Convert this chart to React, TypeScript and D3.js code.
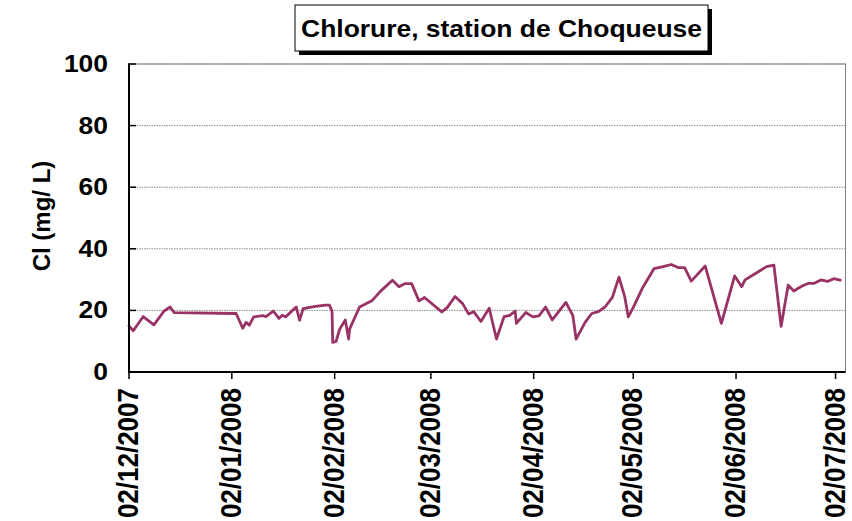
import React, { useRef, useEffect } from 'react';
import * as d3 from 'd3';

// sample time (dd/mm/yyyy HH) and chloride concentration in mg/L
const sampleTimes = [
  '02/12/2007 00', '03/12/2007 07', '06/12/2007 07', '09/12/2007 12', '12/12/2007 14',
  '14/12/2007 10', '15/12/2007 14', '03/01/2008 07', '05/01/2008 07', '06/01/2008 07',
  '07/01/2008 07', '08/01/2008 14', '11/01/2008 07', '12/01/2008 07', '14/01/2008 12',
  '16/01/2008 05', '17/01/2008 05', '18/01/2008 05', '21/01/2008 10', '22/01/2008 10',
  '23/01/2008 12', '27/01/2008 05', '30/01/2008 05', '31/01/2008 10', '01/02/2008 05',
  '01/02/2008 10', '02/02/2008 10', '03/02/2008 12', '05/02/2008 05', '06/02/2008 05',
  '06/02/2008 12', '09/02/2008 12', '13/02/2008 05', '15/02/2008 17', '19/02/2008 10',
  '21/02/2008 10', '23/02/2008 05', '25/02/2008 05', '27/02/2008 10', '29/02/2008 02',
  '05/03/2008 07', '06/03/2008 22', '09/03/2008 07', '11/03/2008 14', '13/03/2008 10',
  '14/03/2008 22', '17/03/2008 02', '19/03/2008 14', '21/03/2008 19', '24/03/2008 02',
  '25/03/2008 19', '27/03/2008 10', '27/03/2008 19', '30/03/2008 14', '01/04/2008 19',
  '03/04/2008 14', '05/04/2008 14', '07/04/2008 14', '11/04/2008 17', '13/04/2008 19',
  '14/04/2008 19', '17/04/2008 12', '19/04/2008 12', '21/04/2008 12', '23/04/2008 12',
  '25/04/2008 17', '27/04/2008 17', '29/04/2008 12', '30/04/2008 12', '02/05/2008 00',
  '04/05/2008 17', '08/05/2008 07', '11/05/2008 00', '13/05/2008 12', '15/05/2008 12',
  '17/05/2008 12', '19/05/2008 12', '23/05/2008 17', '28/05/2008 14', '01/06/2008 14',
  '03/06/2008 17', '04/06/2008 17', '11/06/2008 05', '13/06/2008 10', '15/06/2008 14',
  '17/06/2008 17', '19/06/2008 10', '21/06/2008 22', '23/06/2008 22', '25/06/2008 14',
  '27/06/2008 14', '29/06/2008 14', '01/07/2008 10', '03/07/2008 10',
];

const chloride = [
  15.0, 13.4, 18.0, 15.3, 19.8,
  21.1, 19.3, 19.0, 14.2, 16.1,
  15.2, 17.9, 18.3, 18.0, 19.8,
  17.4, 18.4, 17.9, 21.1, 16.8,
  20.6, 21.3, 21.7, 21.7, 19.8,
  9.6, 9.9, 13.9, 16.9, 10.7,
  13.9, 21.1, 23.1, 26.1, 29.8,
  27.7, 28.7, 28.7, 23.1, 24.2,
  19.5, 20.9, 24.5, 22.2, 18.8,
  19.6, 16.4, 20.7, 10.7, 18.0,
  18.4, 19.8, 15.8, 19.3, 17.9,
  18.2, 21.1, 16.9, 22.6, 18.4,
  10.7, 16.1, 19.0, 19.6, 21.1,
  24.2, 30.8, 24.2, 17.9, 20.9,
  27.1, 33.6, 34.2, 34.9, 33.9,
  33.9, 29.5, 34.4, 15.8, 31.2,
  27.7, 29.9, 34.2, 34.7, 14.8,
  28.2, 26.3, 27.9, 28.8, 28.8,
  29.9, 29.4, 30.3, 29.8,
];

const xTickLabels = [
  '02/12/2007', '02/01/2008', '02/02/2008', '02/03/2008',
  '02/04/2008', '02/05/2008', '02/06/2008', '02/07/2008',
];
const yTicks = [0, 20, 40, 60, 80, 100];
const xDomain = ['02/12/2007 00', '05/07/2008 00'];

const title = 'Chlorure, station de Choqueuse';
const yTitle = 'Cl (mg/ L)';

const FONT = '"Liberation Sans", Arial, sans-serif';
const LINE = '#993366';

export default function App() {
  const svgRef = useRef<SVGSVGElement>(null);

  useEffect(() => {
    const svg = d3.select(svgRef.current);
    svg.selectAll('*').remove();

    const width = 852;
    const height = 521;
    const left = 129, right = 845.5, top = 64, bottom = 372;

    const parseTime = d3.utcParse('%d/%m/%Y %H');
    const parseDay = d3.utcParse('%d/%m/%Y');

    const x = d3.scaleUtc()
      .domain([parseTime(xDomain[0])!, parseTime(xDomain[1])!])
      .range([left, right]);
    const y = d3.scaleLinear().domain([0, 100]).range([bottom, top]);

    svg.attr('viewBox', `0 0 ${width} ${height}`);
    svg.append('rect').attr('width', width).attr('height', height).attr('fill', 'white');

    // plot area frame
    svg.append('rect')
      .attr('x', left).attr('y', top)
      .attr('width', right - left).attr('height', bottom - top)
      .attr('fill', 'white').attr('stroke', '#808080').attr('stroke-width', 1);

    // grid
    yTicks.filter((t) => t > 0).forEach((t) => {
      svg.append('line')
        .attr('x1', left).attr('x2', right).attr('y1', y(t)).attr('y2', y(t))
        .attr('stroke', '#8a8a8a').attr('stroke-width', 1)
        .attr('stroke-dasharray', '1.5,1');
    });

    // series
    const pts = sampleTimes.map((s, i) => ({ t: parseTime(s)!, v: chloride[i] }));
    const line = d3.line<typeof pts[0]>()
      .x((d) => x(d.t))
      .y((d) => y(d.v));
    svg.append('path').datum(pts).attr('d', line)
      .attr('fill', 'none').attr('stroke', LINE).attr('stroke-width', 2.8)
      .attr('stroke-linejoin', 'round').attr('stroke-linecap', 'round');

    // axes
    svg.append('line').attr('x1', left).attr('x2', left).attr('y1', top).attr('y2', bottom + 1)
      .attr('stroke', 'black').attr('stroke-width', 2);
    svg.append('line').attr('x1', left - 1).attr('x2', right).attr('y1', bottom).attr('y2', bottom)
      .attr('stroke', 'black').attr('stroke-width', 2);

    // y ticks & labels
    yTicks.forEach((t) => {
      svg.append('line')
        .attr('x1', left - 1).attr('x2', left + 7).attr('y1', y(t)).attr('y2', y(t))
        .attr('stroke', 'black').attr('stroke-width', 1.5);
      svg.append('text')
        .attr('transform', `translate(108,${y(t) + 8}) scale(1.15,1)`)
        .attr('text-anchor', 'end')
        .attr('font-family', FONT).attr('font-weight', 'bold').attr('font-size', 23)
        .text(t);
    });

    // x ticks & labels
    xTickLabels.forEach((lab) => {
      const px = x(parseDay(lab)!);
      svg.append('line')
        .attr('x1', px).attr('x2', px).attr('y1', bottom).attr('y2', bottom + 7)
        .attr('stroke', 'black').attr('stroke-width', 1.5);
      svg.append('text')
        .attr('transform', `translate(${px + 9},388) scale(1.1,1) rotate(-90)`)
        .attr('text-anchor', 'end')
        .attr('font-family', FONT).attr('font-weight', 'bold').attr('font-size', 26)
        .text(lab);
    });

    // y title
    svg.append('text')
      .attr('transform', `translate(50,216) rotate(-90)`)
      .attr('text-anchor', 'middle')
      .attr('font-family', FONT).attr('font-weight', 'bold').attr('font-size', 24)
      .text(yTitle);

    // title box with shadow
    const bx = 295, by = 5, bw = 413, bh = 46;
    svg.append('rect').attr('x', bx + 4).attr('y', by + 4).attr('width', bw).attr('height', bh)
      .attr('fill', 'black');
    svg.append('rect').attr('x', bx).attr('y', by).attr('width', bw).attr('height', bh)
      .attr('fill', 'white').attr('stroke', 'black').attr('stroke-width', 1);
    svg.append('text')
      .attr('transform', `translate(${bx + bw / 2},37) scale(1.15,1)`)
      .attr('text-anchor', 'middle')
      .attr('font-family', FONT).attr('font-weight', 'bold').attr('font-size', 23)
      .text(title);
  }, []);

  return (
    <svg
      ref={svgRef}
      width={852}
      height={521}
      style={{ position: 'absolute', left: 0, top: 0, display: 'block' }}
    />
  );
}
